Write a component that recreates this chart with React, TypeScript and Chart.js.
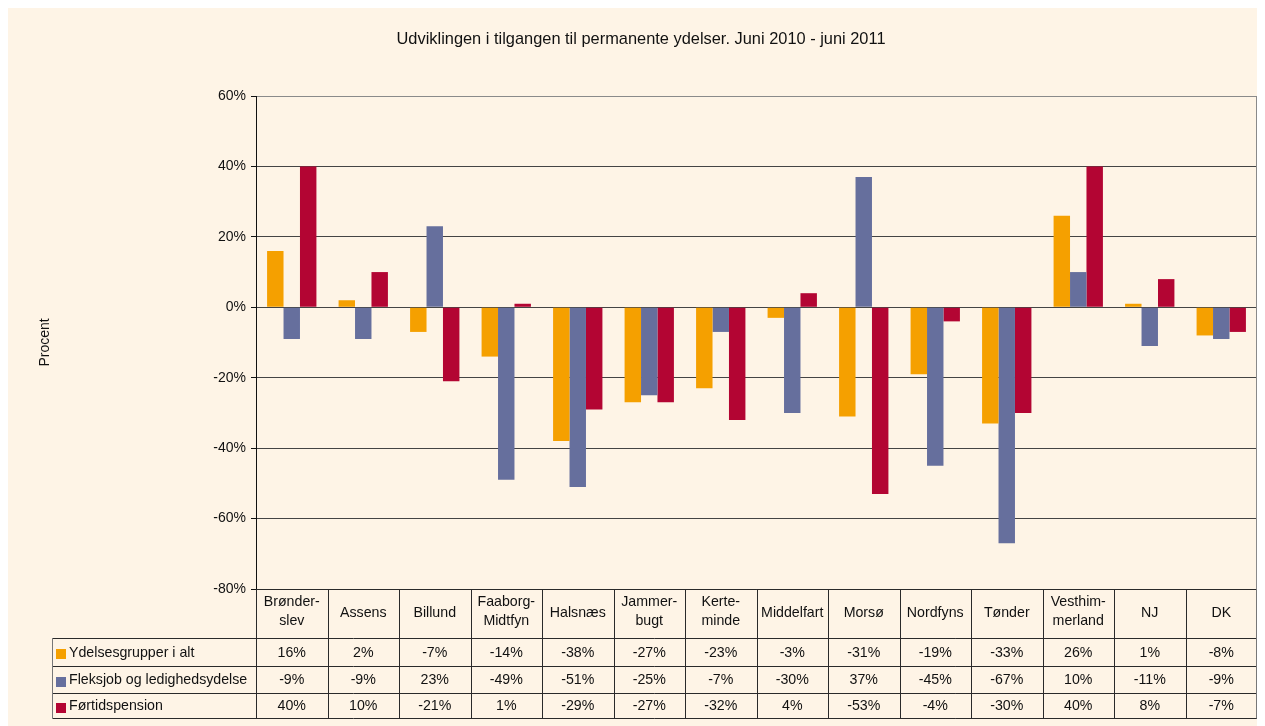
import React, { useEffect, useRef } from "react";
import { Chart, registerables } from "chart.js";

Chart.register(...registerables);

const TITLE = "Udviklingen i tilgangen til permanente ydelser. Juni 2010 - juni 2011";
const Y_TITLE = "Procent";

const categories: string[][] = [
  ["Brønder-", "slev"],
  ["Assens"],
  ["Billund"],
  ["Faaborg-", "Midtfyn"],
  ["Halsnæs"],
  ["Jammer-", "bugt"],
  ["Kerte-", "minde"],
  ["Middelfart"],
  ["Morsø"],
  ["Nordfyns"],
  ["Tønder"],
  ["Vesthim-", "merland"],
  ["NJ"],
  ["DK"],
];

const seriesNames = ["Ydelsesgrupper i alt", "Fleksjob og ledighedsydelse", "Førtidspension"];
const seriesColors = ["#F5A000", "#666F9D", "#B30533"];

const ydelsesgrupper = [16, 2, -7, -14, -38, -27, -23, -3, -31, -19, -33, 26, 1, -8];
const fleksjob = [-9, -9, 23, -49, -51, -25, -7, -30, 37, -45, -67, 10, -11, -9];
const foertidspension = [40, 10, -21, 1, -29, -27, -32, 4, -53, -4, -30, 40, 8, -7];

const yTicks = [60, 40, 20, 0, -20, -40, -60, -80];

const FAMILY = "'Liberation Sans', Arial, sans-serif";
const FONT = "14.2px " + FAMILY;
const TITLE_FONT = "16.4px " + FAMILY;
const BG = "#FEF4E6";
const W = 1249;
const H = 718;

const tablePlugin = {
  id: "tablePlugin",
  beforeDraw(chart: any) {
    const { ctx, width, height } = chart;
    ctx.save();
    ctx.fillStyle = BG;
    ctx.fillRect(0, 0, width, height);
    ctx.restore();
  },
  afterDraw(chart: any) {
    const { ctx, chartArea } = chart;
    const xs = chart.scales.x;
    const seriesData = chart.data.datasets.map((d: any) => d.data);
    const n = chart.data.labels.length;
    const colW = xs.getPixelForValue(1) - xs.getPixelForValue(0);
    const L = chartArea.left;
    const R = chartArea.right;
    const headTop = chartArea.bottom;
    const headBot = headTop + 49;
    const rowsY = [headBot, headBot + 28, headBot + 55, headBot + 80];
    const legendLeft = 44.5;

    ctx.save();
    // title
    ctx.font = TITLE_FONT;
    ctx.fillStyle = "#111";
    ctx.textAlign = "center";
    ctx.textBaseline = "middle";
    ctx.fillText(TITLE, 633, 31);

    // plot right border
    ctx.strokeStyle = "#8a8a8a";
    ctx.lineWidth = 1;
    ctx.beginPath();
    ctx.moveTo(Math.round(R) - 0.5, chartArea.top);
    ctx.lineTo(Math.round(R) - 0.5, chartArea.bottom);
    ctx.stroke();

    // table lines
    ctx.strokeStyle = "#2a2a2a";
    ctx.beginPath();
    ctx.moveTo(L, Math.round(headTop) + 0.5);
    ctx.lineTo(R, Math.round(headTop) + 0.5);
    for (const y of rowsY) {
      ctx.moveTo(legendLeft, Math.round(y) + 0.5);
      ctx.lineTo(R, Math.round(y) + 0.5);
    }
    for (let i = 0; i < n; i++) {
      const x = Math.round(xs.getPixelForValue(i) - colW / 2) + 0.5;
      ctx.moveTo(x, headTop);
      ctx.lineTo(x, rowsY[3]);
    }
    ctx.stroke();
    ctx.strokeStyle = "#777";
    ctx.beginPath();
    ctx.moveTo(legendLeft, rowsY[0]);
    ctx.lineTo(legendLeft, rowsY[3] + 0.5);
    ctx.moveTo(Math.round(R) - 0.5, headTop);
    ctx.lineTo(Math.round(R) - 0.5, rowsY[3] + 0.5);
    ctx.stroke();

    // header labels
    ctx.font = FONT;
    ctx.fillStyle = "#111";
    ctx.textAlign = "center";
    ctx.textBaseline = "middle";
    const hc = (headTop + headBot) / 2;
    chart.data.labels.forEach((lab: string[], i: number) => {
      const cx = xs.getPixelForValue(i);
      if (lab.length === 1) {
        ctx.fillText(lab[0], cx, hc);
      } else {
        ctx.fillText(lab[0], cx, hc - 11);
        ctx.fillText(lab[1], cx, hc + 8);
      }
    });

    // data rows
    for (let r = 0; r < 3; r++) {
      const cy = (rowsY[r] + rowsY[r + 1]) / 2 + 1;
      ctx.fillStyle = seriesColors[r];
      ctx.fillRect(48, Math.round(cy) - 4, 10, 10);
      ctx.fillStyle = "#111";
      ctx.textAlign = "left";
      ctx.fillText(seriesNames[r], 61, cy);
      ctx.textAlign = "center";
      seriesData[r].forEach((v: number, i: number) => {
        ctx.fillText(v + "%", xs.getPixelForValue(i), cy);
      });
    }
    ctx.restore();
  },
};

export default function App() {
  const ref = useRef<HTMLCanvasElement | null>(null);
  useEffect(() => {
    if (!ref.current) return;
    const chart = new Chart(ref.current, {
      type: "bar",
      data: {
        labels: categories as any,
        datasets: [
          { label: seriesNames[0], data: ydelsesgrupper, backgroundColor: seriesColors[0] },
          { label: seriesNames[1], data: fleksjob, backgroundColor: seriesColors[1] },
          { label: seriesNames[2], data: foertidspension, backgroundColor: seriesColors[2] },
        ],
      },
      options: {
        animation: false,
        responsive: false,
        layout: { padding: { left: 0, top: 88, right: 0, bottom: 137 } },
        datasets: { bar: { categoryPercentage: 0.69, barPercentage: 1.0 } },
        plugins: {
          legend: { display: false },
          title: { display: false },
          tooltip: { enabled: false },
        },
        scales: {
          x: { display: false },
          y: {
            min: -80,
            max: 60,
            afterFit: (s: any) => {
              s.width = 248;
            },
            afterBuildTicks: (s: any) => {
              s.ticks = yTicks.map((v) => ({ value: v }));
            },
            ticks: {
              callback: (v: any) => v + "%",
              color: "#111",
              font: { family: FAMILY, size: 14 },
              padding: 5,
            },
            grid: {
              color: (c: any) => (c.tick && c.tick.value === 60 ? "#8a8a8a" : "#444"),
              lineWidth: 1,
              tickLength: 5,
              tickColor: "#111",
            },
            border: { color: "#111", width: 1 },
            title: {
              display: true,
              text: Y_TITLE,
              color: "#111",
              font: { family: FAMILY, size: 14 },
              padding: { top: 29, bottom: 0 },
            },
          },
        },
      },
      plugins: [tablePlugin],
    });
    return () => chart.destroy();
  }, []);
  return (
    <div style={{ width: W, height: H }}>
      <canvas ref={ref} width={W} height={H} style={{ display: "block", width: W, height: H }} />
    </div>
  );
}
